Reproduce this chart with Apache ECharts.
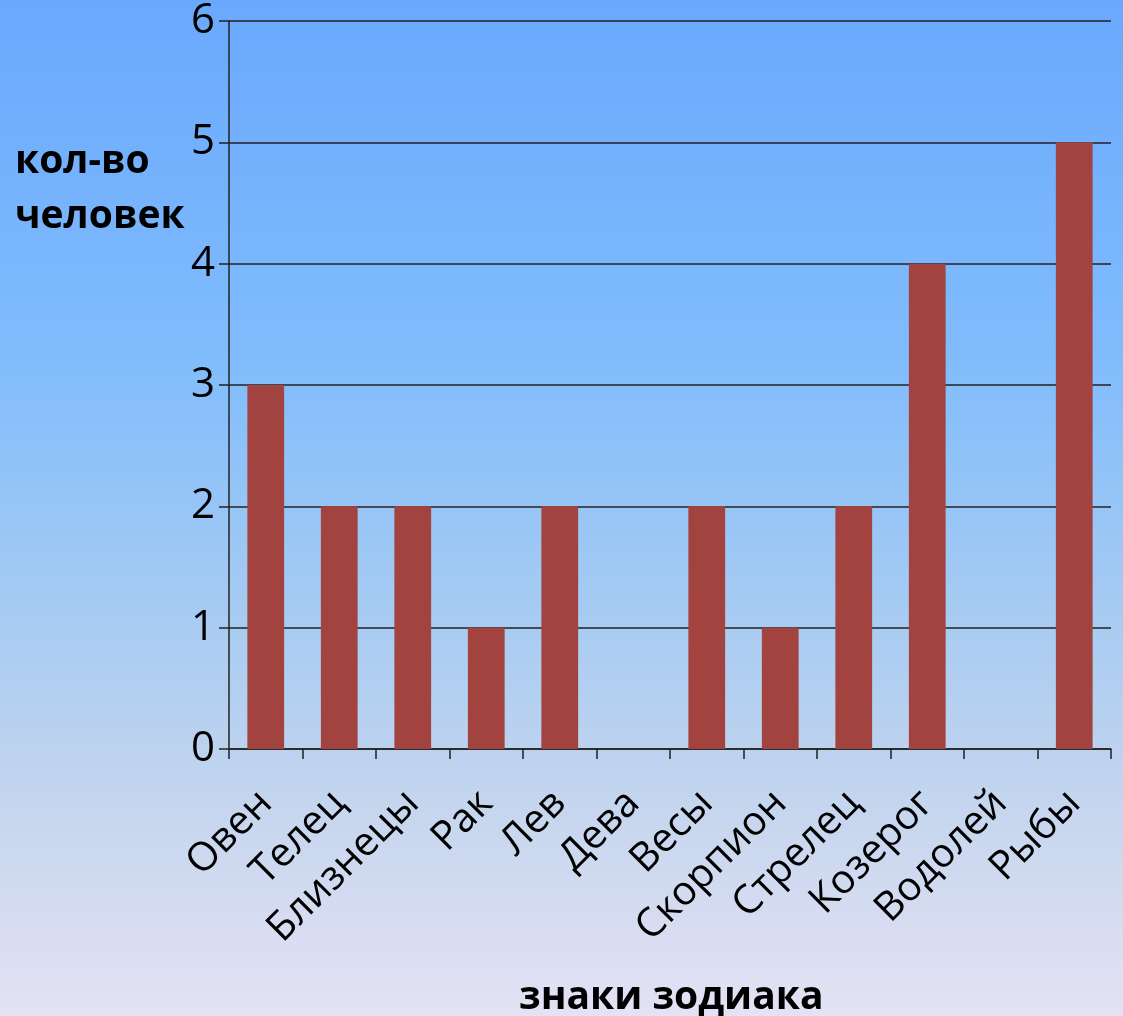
<!DOCTYPE html>
<html><head><meta charset="utf-8">
<style>html,body{margin:0;padding:0;}#c{width:1123px;height:1016px;}</style>
<script src="https://cdn.jsdelivr.net/npm/echarts@6/dist/echarts.min.js"></script>
</head><body><div id="c"></div>
<script>
const categories = ['Овен','Телец','Близнецы','Рак','Лев','Дева','Весы','Скорпион','Стрелец','Козерог','Водолей','Рыбы'];
const counts = [3,2,2,1,2,0,2,1,2,4,0,5];
const yTitle = 'кол-во\nчеловек';
const xTitle = 'знаки зодиака';
const font = '"Open Sans", sans-serif';
const chart = echarts.init(document.getElementById('c'));
chart.setOption({
  backgroundColor: {type:'linear', x:0, y:0, x2:0, y2:1, colorStops:[
    {offset:0, color:'#6aa8fd'},
    {offset:0.35, color:'#80bcfc'},
    {offset:0.6, color:'#a6cbf2'},
    {offset:0.8, color:'#c6d6ee'},
    {offset:1, color:'#e4e2f4'}
  ]},
  animation:false,
  grid:{left:229, right:12, top:21, bottom:267},
  xAxis:{type:'category', data:categories, boundaryGap:true,
    axisLine:{lineStyle:{color:'#222', width:1.5}},
    axisTick:{show:true, length:10, alignWithLabel:false, lineStyle:{color:'#222', width:1.5}},
    axisLabel:{rotate:45, interval:0, fontSize:40, color:'#000', fontFamily:font, margin:48}},
  yAxis:{type:'value', min:0, max:6, interval:1,
    axisLine:{show:true, lineStyle:{color:'#222', width:1.5}},
    axisTick:{show:true, length:10, lineStyle:{color:'#222', width:1.5}},
    splitLine:{lineStyle:{color:'#222', width:1.5}},
    axisLabel:{fontSize:42, color:'#000', fontFamily:font, margin:14}},
  series:[{type:'bar', data:counts, barWidth:'50%',
    itemStyle:{color:'#a2433f'}}],
  graphic:[
    {type:'text', left:15, top:134, style:{text:yTitle, font:'bold 39px "Open Sans", sans-serif', fill:'#000', lineHeight:55}},
    {type:'text', left:519, top:978, style:{text:xTitle, font:'bold 39px "Open Sans", sans-serif', fill:'#000'}}
  ]
});
</script></body></html>
